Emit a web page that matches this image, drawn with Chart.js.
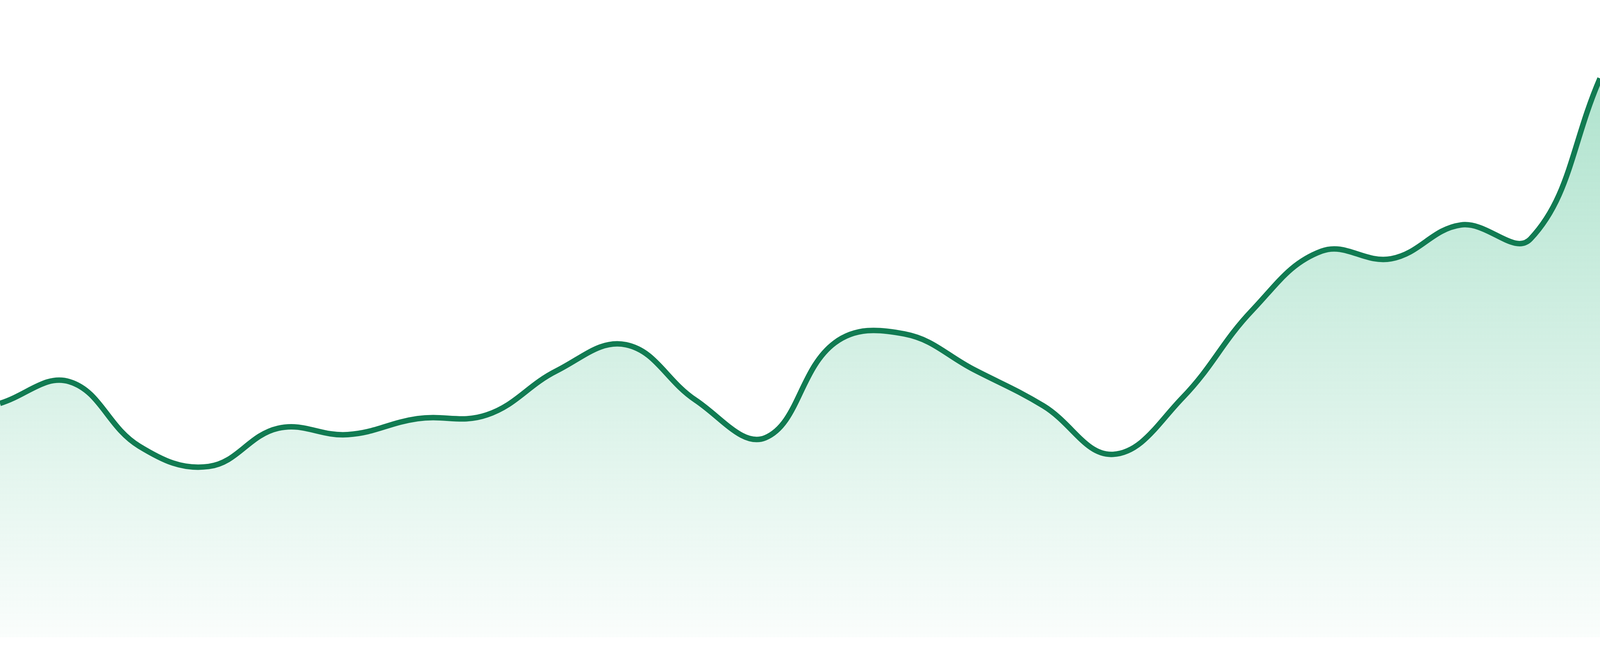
<!DOCTYPE html>
<html>
<head>
<meta charset="utf-8">
<title>Area trend</title>
<script src="https://cdn.jsdelivr.net/npm/chart.js@4.4.1/dist/chart.umd.min.js"></script>
<style>
	html, body { margin: 0; padding: 0; background: #fff; }
	#wrap { width: 100vw; height: 100vh; position: relative; }
</style>
</head>
<body>
<div id="wrap"><canvas id="chart"></canvas></div>
<script>
// 24 periods, no axes shown in the picture
const labels = [
	'1', '2', '3', '4', '5', '6', '7', '8', '9', '10', '11', '12',
	'13', '14', '15', '16', '17', '18', '19', '20', '21', '22', '23', '24',
]

// values (0..100 over the plot height)
const values = [
	36.7, 40.1, 30.0, 26.8, 32.8, 31.8, 34.3, 34.9, 41.8, 45.9, 37.2, 31.3,
	46.2, 47.6, 42.0, 36.3, 28.7, 37.6, 51.3, 60.6, 59.4, 64.7, 62.5, 87.7,
]

const yMin = 0
const yMax = 100

const lineColor = '#117b52'

// fill fades from mint at the top to almost white at the bottom
function areaGradient(context) {
	const { chart } = context
	const area = chart.chartArea
	if (!area) return 'rgba(31, 176, 116, 0.2)'
	const g = chart.ctx.createLinearGradient(0, area.top, 0, area.bottom)
	g.addColorStop(0, 'rgba(31, 176, 116, 0.40)')
	g.addColorStop(1, 'rgba(31, 176, 116, 0.025)')
	return g
}

new Chart(document.getElementById('chart'), {
	type: 'line',
	data: {
		labels: labels,
		datasets: [
			{
				data: values,
				borderColor: lineColor,
				borderWidth: 14,
				backgroundColor: areaGradient,
				fill: 'start',
				tension: 0.4,
				pointRadius: 0,
				pointHoverRadius: 0,
			},
		],
	},
	options: {
		responsive: true,
		maintainAspectRatio: false,
		animation: false,
		layout: { padding: { top: 0, bottom: 48, left: 0, right: 0 } },
		scales: {
			x: { display: false },
			y: { display: false, min: yMin, max: yMax },
		},
		plugins: {
			legend: { display: false },
			tooltip: { enabled: false },
		},
	},
})
</script>
</body>
</html>
